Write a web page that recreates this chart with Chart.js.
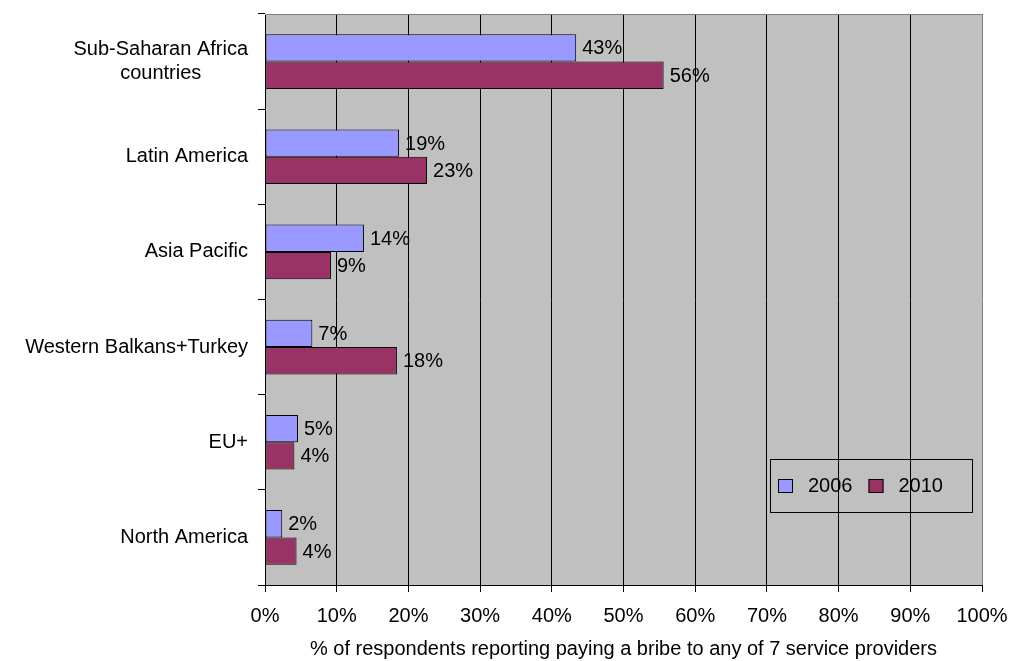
<!DOCTYPE html>
<html>
<head>
<meta charset="utf-8">
<script src="https://cdn.jsdelivr.net/npm/chart.js@4.4.0/dist/chart.umd.min.js"></script>
<style>
html,body{margin:0;padding:0;background:#ffffff;}
#wrap{width:1010px;height:661px;}
</style>
</head>
<body>
<div id="wrap"><canvas id="c" width="1010" height="661"></canvas></div>
<script>
// ---- data ----
const categories = [["Sub-Saharan Africa", "countries"], "Latin America", "Asia Pacific", "Western Balkans+Turkey", "EU+", "North America"];
const values2006 = [43.4, 18.7, 13.8, 6.6, 4.6, 2.4];
const values2010 = [55.6, 22.6, 9.2, 18.4, 4.1, 4.4];
const seriesNames = ["2006", "2010"];
const xTickValues = [0, 10, 20, 30, 40, 50, 60, 70, 80, 90, 100];
const xAxisTitle = "% of respondents reporting paying a bribe to any of 7 service providers";

// ---- styles ----
const FONT_FAMILY = "'Liberation Sans', Arial, Helvetica, sans-serif";
const FONT_SIZE = 20;
const COLOR_2006 = "#9999FF";
const COLOR_2010 = "#993366";
const PLOT_BG = "#C0C0C0";

Chart.defaults.font.family = FONT_FAMILY;
Chart.defaults.font.size = FONT_SIZE;
Chart.defaults.color = "#000";

const plotBackground = {
  id: "plotBackground",
  beforeDraw(chart) {
    const {ctx, chartArea: a} = chart;
    ctx.save();
    ctx.fillStyle = PLOT_BG;
    ctx.fillRect(a.left, a.top, a.right - a.left, a.bottom - a.top);
    ctx.restore();
  },
  afterDraw(chart) {
    const {ctx, chartArea: a} = chart;
    ctx.save();
    ctx.strokeStyle = "#808080";
    ctx.lineWidth = 1;
    ctx.beginPath();
    ctx.moveTo(a.left, Math.round(a.top) + 0.5);
    ctx.lineTo(a.right + 1, Math.round(a.top) + 0.5);
    ctx.stroke();
    ctx.restore();
  }
};

const valueLabels = {
  id: "valueLabels",
  afterDatasetsDraw(chart) {
    const ctx = chart.ctx;
    ctx.save();
    ctx.font = FONT_SIZE + "px " + FONT_FAMILY;
    ctx.fillStyle = "#000";
    ctx.textAlign = "left";
    ctx.textBaseline = "middle";
    chart.data.datasets.forEach((ds, di) => {
      const meta = chart.getDatasetMeta(di);
      meta.data.forEach((bar, i) => {
        ctx.fillText(Math.round(ds.data[i]) + "%", bar.x + 6, bar.y + 1);
      });
    });
    ctx.restore();
  }
};

const categoryLabels = {
  id: "categoryLabels",
  afterDraw(chart) {
    const ctx = chart.ctx;
    const ys = chart.scales.y;
    ctx.save();
    ctx.font = FONT_SIZE + "px " + FONT_FAMILY;
    ctx.fillStyle = "#000";
    ctx.textAlign = "center";
    ctx.textBaseline = "middle";
    const lineH = 24;
    chart.data.labels.forEach((lab, i) => {
      const lines = Array.isArray(lab) ? lab : [lab];
      const w = Math.max(...lines.map(l => ctx.measureText(l).width));
      const cx = ys.right - 17 - w / 2;
      const cy = ys.getPixelForValue(i);
      let y = cy - (lines.length - 1) * lineH / 2;
      lines.forEach(l => { ctx.fillText(l, cx, y); y += lineH; });
    });
    ctx.restore();
  }
};

const boxLegend = {
  id: "boxLegend",
  afterDraw(chart) {
    const ctx = chart.ctx;
    const a = chart.chartArea;
    ctx.save();
    ctx.font = FONT_SIZE + "px " + FONT_FAMILY;
    const boxW = 202, boxH = 53;
    const left = Math.round(a.right - 10 - boxW);
    const top = Math.round(a.top + 445);
    ctx.strokeStyle = "#000";
    ctx.lineWidth = 1;
    ctx.strokeRect(left + 0.5, top + 0.5, boxW, boxH);
    const midY = top + boxH / 2 + 0.5;
    let x = left + 8;
    ctx.textAlign = "left";
    ctx.textBaseline = "middle";
    chart.data.datasets.forEach((ds) => {
      ctx.fillStyle = ds.backgroundColor;
      ctx.fillRect(x, Math.round(midY - 7), 15, 14);
      ctx.strokeStyle = "#000";
      ctx.strokeRect(x + 0.5, Math.round(midY - 7) + 0.5, 14, 13);
      ctx.fillStyle = "#000";
      ctx.fillText(ds.label, x + 30, midY);
      x += 30 + ctx.measureText(ds.label).width + 16;
    });
    ctx.restore();
  }
};

new Chart(document.getElementById("c"), {
  type: "bar",
  data: {
    labels: categories,
    datasets: [
      {label: seriesNames[0], data: values2006, backgroundColor: COLOR_2006, borderColor: "#000", borderWidth: 1, borderSkipped: false},
      {label: seriesNames[1], data: values2010, backgroundColor: COLOR_2010, borderColor: "#000", borderWidth: 1, borderSkipped: false}
    ]
  },
  options: {
    indexAxis: "y",
    responsive: false,
    devicePixelRatio: 1,
    animation: false,
    categoryPercentage: 0.575,
    barPercentage: 1.0,
    layout: {padding: {top: 14, right: 28, left: 0, bottom: 0}},
    plugins: {legend: {display: false}, tooltip: {enabled: false}},
    scales: {
      x: {
        type: "linear",
        min: xTickValues[0],
        max: xTickValues[xTickValues.length - 1],
        afterBuildTicks(scale) { scale.ticks = xTickValues.map(v => ({value: v})); },
        ticks: {
          callback: v => v + "%",
          color: "#000",
          padding: 12,
          maxRotation: 0,
          autoSkip: false
        },
        grid: {
          color: ctx => (ctx.tick && ctx.tick.value === 100) ? "#808080" : "#000",
          tickColor: "#000",
          tickLength: 7,
          lineWidth: 1
        },
        border: {color: "#000"},
        title: {display: true, text: xAxisTitle, color: "#000", padding: {top: 4, bottom: 0}},
        afterFit(scale) { scale.height = 76; scale.paddingLeft = 0; scale.paddingRight = 0; }
      },
      y: {
        type: "category",
        ticks: {display: false},
        grid: {drawOnChartArea: false, offset: true, tickLength: 7, color: "#000", tickColor: "#000"},
        border: {color: "#000"},
        afterFit(scale) { scale.width = 265; scale.paddingTop = 0; scale.paddingBottom = 0; }
      }
    }
  },
  plugins: [plotBackground, valueLabels, categoryLabels, boxLegend]
});
</script>
</body>
</html>
